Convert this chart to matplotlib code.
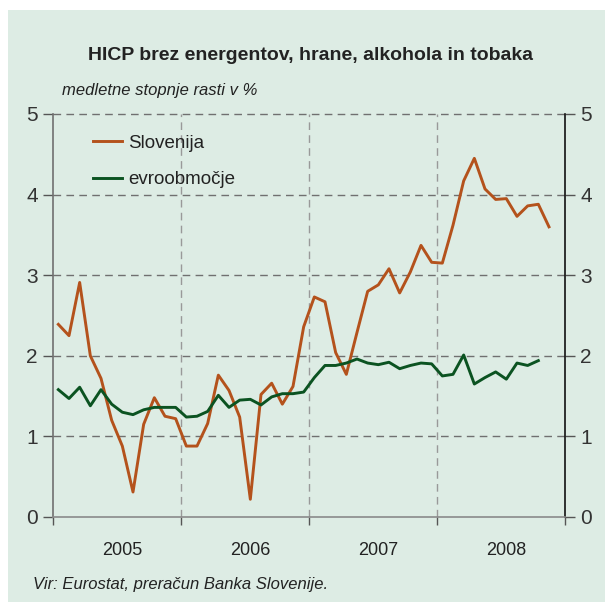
import matplotlib
matplotlib.use("Agg")
import matplotlib.pyplot as plt
from matplotlib.patches import Rectangle

plt.rcParams['font.family'] = ['Liberation Sans', 'DejaVu Sans']

years = ["2005", "2006", "2007", "2008"]
slovenija = [2.39, 2.25, 2.91, 2.00, 1.72, 1.20, 0.88, 0.31, 1.15, 1.48, 1.25, 1.22,
             0.88, 0.88, 1.16, 1.76, 1.57, 1.24, 0.22, 1.52, 1.66, 1.40, 1.62, 2.36,
             2.73, 2.67, 2.04, 1.77, 2.29, 2.80, 2.88, 3.08, 2.78, 3.04, 3.37, 3.16,
             3.15, 3.62, 4.17, 4.45, 4.07, 3.94, 3.95, 3.73, 3.86, 3.88, 3.60]
evro = [1.58, 1.47, 1.61, 1.38, 1.58, 1.40, 1.30, 1.27, 1.33, 1.36, 1.36, 1.36,
        1.24, 1.25, 1.31, 1.51, 1.36, 1.45, 1.46, 1.39, 1.49, 1.53, 1.53, 1.55,
        1.73, 1.88, 1.88, 1.91, 1.96, 1.91, 1.89, 1.92, 1.84, 1.88, 1.91, 1.90,
        1.75, 1.77, 2.01, 1.65, 1.73, 1.80, 1.71, 1.91, 1.88, 1.94]
yticks = [0, 1, 2, 3, 4, 5]

bg = '#DDECE4'
orange = '#B4521C'
green = '#0B5321'

fig = plt.figure(figsize=(6.05, 6.02), dpi=100)
fig.patches.append(Rectangle((8/605, 0), 1 - 8/605, 1 - 10/602, transform=fig.transFigure,
                             facecolor=bg, edgecolor='none', zorder=-10))

ax = fig.add_axes([53/605, 1 - 517/602, 512/605, 403/602])
ax.patch.set_alpha(0)

x_s = list(range(len(slovenija)))
x_e = list(range(len(evro)))

ax.plot(x_s, slovenija, color=orange, lw=2.1, label='Slovenija', zorder=3)
ax.plot(x_e, evro, color=green, lw=2.1, label='evroobmočje', zorder=4)

ax.set_xlim(-0.5, 47.5)
ax.set_ylim(0, 5)

# grid
for y in yticks[1:]:
    ax.axhline(y, color='#707070', lw=1.0, ls=(0, (5.5, 3.8)), zorder=1, clip_on=False)
for xb in [11.5, 23.5, 35.5]:
    ax.axvline(xb, color='#999999', lw=1.0, ls=(0, (5.5, 3.8)), zorder=1)

ax.spines['top'].set_visible(False)
ax.spines['left'].set_color('#707070')
ax.spines['bottom'].set_color('#8a8a8a')
ax.spines['right'].set_color('#111111')
for s in ['left', 'bottom', 'right']:
    ax.spines[s].set_linewidth(1.2)

ax.set_yticks(yticks)
ax.set_yticklabels([str(v) for v in yticks])
ax.tick_params(axis='y', which='both', left=True, right=True, labelleft=True, labelright=True,
               direction='out', length=7, width=1.0, color='#555555', labelsize=15,
               labelcolor='#333333', pad=4)
ax.set_xticks([-0.5, 11.5, 23.5, 35.5, 47.5])
ax.set_xticklabels([])
ax.tick_params(axis='x', direction='out', length=6, width=1.0, color='#555555')
for i, yr in enumerate(years):
    ax.text(6 + 12 * i, -0.41, yr, ha='center', va='center', fontsize=13, color='#222222')

leg = ax.legend(loc='upper left', bbox_to_anchor=(0.078, 0.949), frameon=False, fontsize=13.5,
                handlelength=1.55, handletextpad=0.35, labelspacing=1.05, borderpad=0,
                borderaxespad=0, labelcolor='#222222')

fig.text(311/605, 1 - 55/602, 'HICP brez energentov, hrane, alkohola in tobaka',
         ha='center', va='center', fontsize=14, fontweight='bold', color='#222222')
fig.text(62/605, 1 - 90/602, 'medletne stopnje rasti v %', ha='left', va='center',
         fontsize=12, style='italic', color='#222222')
fig.text(33/605, 1 - 584/602, 'Vir: Eurostat, preračun Banka Slovenije.', ha='left',
         va='center', fontsize=12, style='italic', color='#222222')

fig.savefig('out.png', dpi=100, facecolor='white')
